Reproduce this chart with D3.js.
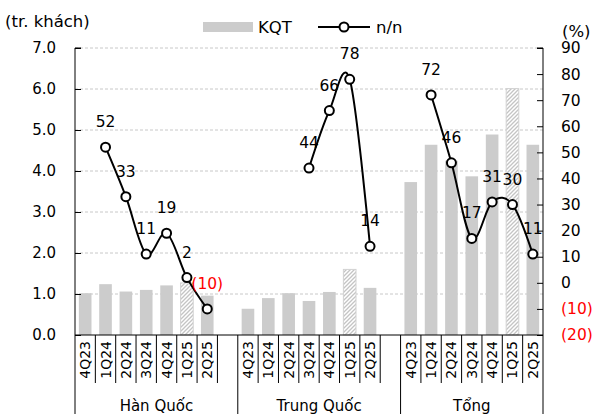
<!DOCTYPE html>
<html>
<head>
<meta charset="utf-8">
<script src="https://cdn.jsdelivr.net/npm/d3@7/dist/d3.min.js"></script>
<style>
  html, body { margin: 0; padding: 0; background: #fff; }
  svg { display: block; font-family: "DejaVu Sans", sans-serif; }
</style>
</head>
<body>
<svg id="chart" width="595" height="414"></svg>
<script>
// International arrivals (million visitors) and year-on-year growth (%)
const groups = ["Hàn Quốc", "Trung Quốc", "Tổng"];
const quarters = ["4Q23", "1Q24", "2Q24", "3Q24", "4Q24", "1Q25", "2Q25"];
const estimateQuarter = "1Q25";

const kqtHanQuoc   = [1.02, 1.24, 1.06, 1.10, 1.21, 1.27, 0.96];
const kqtTrungQuoc = [0.64, 0.90, 1.02, 0.83, 1.05, 1.60, 1.15];
const kqtTong      = [3.73, 4.64, 4.25, 3.87, 4.89, 6.01, 4.64];

const yoyHanQuoc   = [null, 52, 33, 11, 19, 2, -10];
const yoyTrungQuoc = [null, null, null, 44, 66, 78, 14];
const yoyTong      = [null, 72, 46, 17, 31, 30, 11];

const leftTicks  = [0, 1, 2, 3, 4, 5, 6, 7];
const rightTicks = [-20, -10, 0, 10, 20, 30, 40, 50, 60, 70, 80, 90];

const seriesKqt = [kqtHanQuoc, kqtTrungQuoc, kqtTong];
const seriesYoy = [yoyHanQuoc, yoyTrungQuoc, yoyTong];

// Slot list: seven quarters per group, one empty slot after the first two groups
const slots = [];
groups.forEach((g, gi) => {
  quarters.forEach((q, qi) => slots.push({ key: g + "|" + q, group: g, gi, quarter: q,
    kqt: seriesKqt[gi][qi], yoy: seriesYoy[gi][qi] }));
  if (gi < groups.length - 1) slots.push({ key: "gap" + gi, gap: true, gi });
});

const svg = d3.select("#chart");
const m = { left: 75, right: 543, top: 48, bottom: 335 };

const x = d3.scaleBand().domain(slots.map(d => d.key)).range([m.left, m.right]).padding(0);
const yL = d3.scaleLinear().domain([0, 7]).range([m.bottom, m.top]);
const yR = d3.scaleLinear().domain([-20, 90]).range([m.bottom, m.top]);
const bw = x.bandwidth();
const barW = bw * 0.62;

// hatch pattern for the estimated quarter
const defs = svg.append("defs");
const pat = defs.append("pattern").attr("id", "hatch")
  .attr("patternUnits", "userSpaceOnUse").attr("width", 4).attr("height", 4);
pat.append("rect").attr("width", 4).attr("height", 4).attr("fill", "#fff");
pat.append("path").attr("d", "M-1,1 l2,-2 M0,4 l4,-4 M3,5 l2,-2")
  .attr("stroke", "#c4c4c4").attr("stroke-width", 1.3);

// gridlines
svg.append("g").selectAll("line").data(leftTicks.filter(t => t > 0)).join("line")
  .attr("x1", m.left).attr("x2", m.right)
  .attr("y1", d => yL(d)).attr("y2", d => yL(d))
  .attr("stroke", "#c8c8c8").attr("stroke-width", 1).attr("stroke-dasharray", "3,2");

// bars
const barData = slots.filter(d => !d.gap);
svg.append("g").selectAll("rect").data(barData).join("rect")
  .attr("x", d => x(d.key) + (bw - barW) / 2)
  .attr("width", barW)
  .attr("y", d => yL(d.kqt))
  .attr("height", d => yL(0) - yL(d.kqt))
  .attr("fill", d => d.quarter === estimateQuarter ? "url(#hatch)" : "#cccccc")
  .attr("stroke", d => d.quarter === estimateQuarter ? "#d2d2d2" : "none")
  .attr("stroke-width", 1);

// axes
const axL = svg.append("g").attr("transform", `translate(${m.left},0)`)
  .call(d3.axisRight(yL).tickValues(leftTicks).tickSize(6).tickFormat(d3.format(".1f")));
axL.select(".domain").attr("d", `M6,${m.top}H0V${m.bottom}`).attr("stroke", "#000");
axL.selectAll(".tick line").attr("stroke", "#000");
axL.selectAll(".tick text").attr("x", -19).attr("text-anchor", "end")
  .attr("font-size", 15).attr("font-family", "DejaVu Sans").attr("fill", "#000");

const axR = svg.append("g").attr("transform", `translate(${m.right},0)`)
  .call(d3.axisLeft(yR).tickValues(rightTicks).tickSize(6)
    .tickFormat(d => d < 0 ? `(${-d})` : `${d}`));
axR.select(".domain").attr("d", `M-6,${m.top}H0V${m.bottom}`).attr("stroke", "#000");
axR.selectAll(".tick line").attr("stroke", "#000");
axR.selectAll(".tick text").attr("x", 18).attr("text-anchor", "start")
  .attr("font-size", 15.5).attr("font-family", "DejaVu Sans")
  .attr("fill", d => d < 0 ? "#ff0000" : "#000");

// category axis: baseline, slot dividers and group separators
const cat = svg.append("g");
cat.append("line").attr("x1", m.left).attr("x2", m.right)
  .attr("y1", m.bottom).attr("y2", m.bottom).attr("stroke", "#000");
const groupEdges = [m.left];
slots.forEach(d => { if (d.gap) groupEdges.push(x(d.key) + bw); });
groupEdges.push(m.right);
const boundaries = slots.map(d => x(d.key)).concat([m.right]);
cat.selectAll("line.div").data(boundaries).join("line").attr("class", "div")
  .attr("x1", d => d).attr("x2", d => d)
  .attr("y1", m.bottom)
  .attr("y2", d => groupEdges.some(e => Math.abs(e - d) < 0.5) ? 414 : 383)
  .attr("stroke", "#000").attr("stroke-width", 1);
cat.selectAll("text.q").data(barData).join("text").attr("class", "q")
  .attr("transform", d => `translate(${x(d.key) + bw / 2},341) rotate(-90)`)
  .attr("text-anchor", "end").attr("dominant-baseline", "central")
  .attr("font-size", 14).text(d => d.quarter);
cat.selectAll("text.g").data(groups).join("text").attr("class", "g")
  .attr("x", (d, i) => (groupEdges[i] + groupEdges[i + 1]) / 2)
  .attr("y", 406).attr("text-anchor", "middle").attr("dominant-baseline", "central")
  .attr("font-size", 15).text(d => d);

// year-on-year lines
const line = d3.line()
  .x(d => x(d.key) + bw / 2).y(d => yR(d.yoy))
  .curve(d3.curveCardinal.tension(0));
groups.forEach(g => {
  const pts = barData.filter(d => d.group === g && d.yoy !== null);
  svg.append("path").datum(pts).attr("d", line)
    .attr("fill", "none").attr("stroke", "#000").attr("stroke-width", 2);
});
const pts = barData.filter(d => d.yoy !== null);
svg.append("g").selectAll("circle").data(pts).join("circle")
  .attr("cx", d => x(d.key) + bw / 2).attr("cy", d => yR(d.yoy)).attr("r", 4.5)
  .attr("fill", "#fff").attr("stroke", "#000").attr("stroke-width", 2);
svg.append("g").selectAll("text").data(pts).join("text")
  .attr("x", d => x(d.key) + bw / 2).attr("y", d => yR(d.yoy) - 25)
  .attr("text-anchor", "middle").attr("dominant-baseline", "central")
  .attr("font-size", 15.5)
  .attr("fill", d => d.yoy < 0 ? "#ff0000" : "#000")
  .text(d => d.yoy < 0 ? `(${-d.yoy})` : d.yoy);

// titles and legend
svg.append("text").attr("x", 5).attr("y", 21).attr("dominant-baseline", "central")
  .attr("font-size", 16.5).text("(tr. khách)");
svg.append("text").attr("x", 562).attr("y", 31).attr("dominant-baseline", "central")
  .attr("font-size", 16.5).text("(%)");
const lg = svg.append("g");
lg.append("rect").attr("x", 203).attr("y", 22).attr("width", 50).attr("height", 10).attr("fill", "#cccccc");
lg.append("text").attr("x", 258).attr("y", 27).attr("dominant-baseline", "central")
  .attr("font-size", 16.5).text("KQT");
lg.append("line").attr("x1", 318).attr("x2", 370).attr("y1", 27).attr("y2", 27)
  .attr("stroke", "#000").attr("stroke-width", 2);
lg.append("circle").attr("cx", 344).attr("cy", 27).attr("r", 4.5)
  .attr("fill", "#fff").attr("stroke", "#000").attr("stroke-width", 2);
lg.append("text").attr("x", 376).attr("y", 27).attr("dominant-baseline", "central")
  .attr("font-size", 16.5).text("n/n");
</script>
</body>
</html>
